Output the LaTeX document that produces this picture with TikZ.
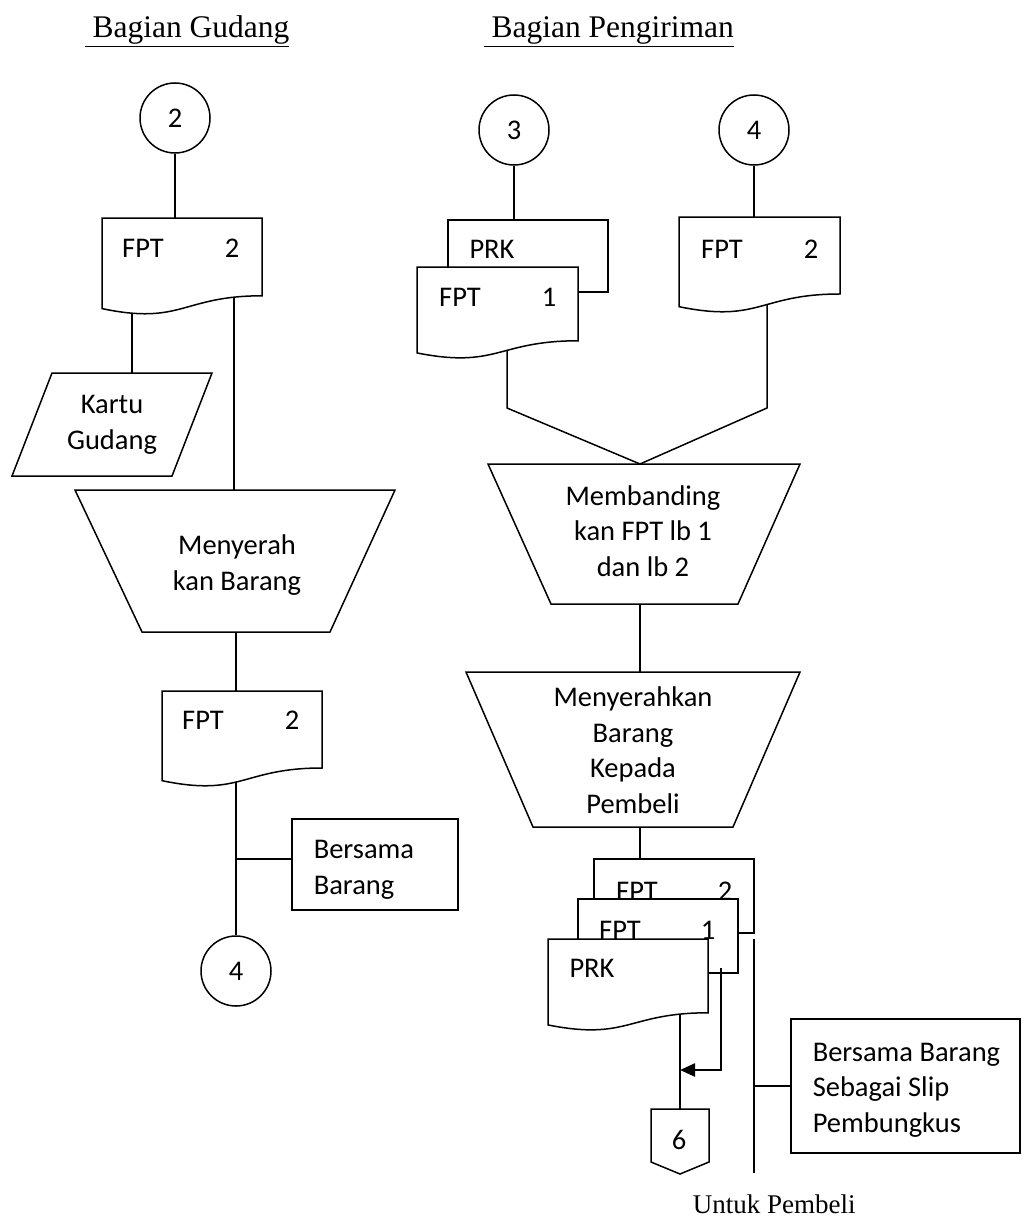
\documentclass[tikz,border=0pt]{standalone}
\usepackage{fontspec}
\setmainfont{Carlito}
\newfontfamily\serifhdr{Liberation Serif}
\usetikzlibrary{calc,arrows.meta}
\pgfdeclarelayer{wires}
\pgfsetlayers{wires,main}
\newcommand\flowfont{\fontsize{28.5}{35.5}\selectfont}
% document symbol: rectangle with a wavy lower edge
\newcommand\docshape[5]{%
  \node[frame,minimum width=#4pt,minimum height=#5pt,anchor=north west] (#1) at (#2,#3) {};
  \draw[shp] (#1.north west) -- (#1.north east)
    -- ($(#1.north east)!0.802!(#1.south east)$)
    .. controls ($(#1.north)!0.802!(#1.south)$) and ($(#1.north)!1.1075!(#1.south)$)
    .. ($(#1.north west)!0.934!(#1.south west)$) -- cycle;}
\begin{document}
\begin{tikzpicture}[x=1pt,y=-1pt,line width=1.5pt,
  frame/.style={rectangle,draw=none,inner sep=0pt,outer sep=0pt},
  shp/.style={draw=black,fill=white,line width=1.5pt},
  wire/.style={draw=black,line width=1.5pt},
  conn/.style={circle,draw,fill=white,minimum size=70pt,inner sep=0pt,font=\flowfont},
  lbl/.style={font=\flowfont,inner sep=0pt},
  ml/.style={font=\flowfont,align=center,inner sep=0pt},
  mll/.style={font=\flowfont,align=left,inner sep=0pt,anchor=west},
  boxn/.style={rectangle,draw,fill=white,inner sep=0pt,outer sep=0pt},
  hdr/.style={font=\serifhdr\fontsize{31.5}{38}\selectfont,inner sep=0pt,anchor=base west}]
\useasboundingbox (0,0) rectangle (1024,1220);

% ---------------- Bagian Gudang ----------------
\node[hdr] (h1) at (84,38) {\underline{\ Bagian Gudang}};
\node[conn] (c2) at (175,118) {2};
\docshape{d1}{102}{218}{160}{97}
\node[lbl,anchor=base] (d1a) at (143,257) {FPT};
\node[lbl,anchor=base] (d1b) at (232,257) {2};

% manual input: Kartu Gudang
\draw[shp] (52,373) -- (212,373) -- (172,476) -- (12,476) -- cycle;
\coordinate (kgtop) at (132,373);
\node[ml] (kg) at (112,425) {Kartu\\Gudang};

% manual operation
\draw[shp] (75,490) -- (395,490) -- (330,632) -- (142,632) -- cycle;
\coordinate (op1top) at (234,490);
\coordinate (op1bot) at (236,632);
\node[ml] (op1) at (237,565) {Menyerah\\kan Barang};

\docshape{d2}{162}{691}{160}{96}
\node[lbl,anchor=base] (d2a) at (203,729) {FPT};
\node[lbl,anchor=base] (d2b) at (292,729) {2};

\node[boxn,minimum width=166pt,minimum height=91pt,anchor=north west] (bb1) at (292,819) {};
\node[mll] (bb1t) at (313,870) {Bersama\\Barang};
\node[conn] (c4L) at (236,971) {4};
\coordinate (jb) at (236,859);

% ---------------- Bagian Pengiriman ----------------
\node[hdr] (h2) at (483,38) {\underline{\ Bagian Pengiriman}};
\node[conn] (c3) at (514,130) {3};
\node[conn] (c4R) at (754,130) {4};

% PRK behind FPT 1
\node[boxn,minimum width=160pt,minimum height=72pt,anchor=north west] (p0) at (448,220) {};
\node[lbl,anchor=base] (p0t) at (492,258) {PRK};
\docshape{f1}{417}{267}{161}{92}
\node[lbl,anchor=base] (f1a) at (460,306) {FPT};
\node[lbl,anchor=base] (f1b) at (549,306) {1};

\docshape{dR}{679}{217}{161}{96}
\node[lbl,anchor=base] (dRa) at (722,258) {FPT};
\node[lbl,anchor=base] (dRb) at (811,258) {2};

\coordinate (jL) at (507,408);
\coordinate (jR) at (767,408);

% comparing FPT copies
\draw[shp] (488,464) -- (800,464) -- (738,604) -- (551,604) -- cycle;
\coordinate (op2top) at (640,464);
\coordinate (op2bot) at (640,604);
\node[ml] (op2) at (643,531) {Membanding\\kan FPT lb 1\\dan lb 2};

% handing over the goods
\draw[shp] (466,672) -- (800,672) -- (733,827) -- (533,827) -- cycle;
\coordinate (op3top) at (640,672);
\coordinate (op3bot) at (640,827);
\node[ml] (op3) at (633,750) {Menyerahkan\\Barang\\Kepada\\Pembeli};

% stack: FPT 2, FPT 1, PRK
\node[boxn,minimum width=160pt,minimum height=74pt,anchor=north west] (pb) at (594,859) {};
\node[lbl,anchor=base] (pba) at (637,900) {FPT};
\node[lbl,anchor=base] (pbb) at (725,900) {2};
\node[boxn,minimum width=160pt,minimum height=74pt,anchor=north west] (pm) at (578,899) {};
\node[lbl,anchor=base] (pma) at (620,939) {FPT};
\node[lbl,anchor=base] (pmb) at (708,939) {1};
\docshape{pf}{548}{939}{160}{92}
\node[lbl,anchor=base] (pft) at (592,977) {PRK};

% off-page connector 6
\node[frame,minimum width=58pt,minimum height=65pt,anchor=north west] (o6) at (651,1109) {};
\draw[shp] (o6.north west) -- (o6.north east) -- ($(o6.south east)+(0,-12)$)
  -- (o6.south) -- ($(o6.south west)+(0,-12)$) -- cycle;
\node[lbl] (o6t) at (679,1140) {6};

\coordinate (as) at (721,968);
\coordinate (ae) at (680,1070);
\draw[line width=2.4pt,-{Triangle[length=15pt,width=13pt]}] (as) |- (ae);

\node[boxn,minimum width=229pt,minimum height=134pt,anchor=north west] (bx2) at (791,1019) {};
\node[mll] (bx2t) at (812,1090) {Bersama Barang\\Sebagai Slip\\Pembungkus};
\coordinate (vt) at (754,939);
\coordinate (vb) at (754,1173);
\draw[wire] (vt) -- (vb);
\draw[wire] (vt |- bx2.west) -- (bx2.west);

\node[font=\serifhdr\fontsize{27}{32}\selectfont,inner sep=0pt,anchor=base west] (up) at (692,1213) {Untuk Pembeli};

% ---------------- connectors ----------------
\begin{pgfonlayer}{wires}
\draw[wire] (c2) -- (c2 |- d1.north);
\draw[wire] (d1.center -| kgtop) -- (kgtop);
\draw[wire] (d1.center -| op1top) -- (op1top);
\draw[wire] (op1bot) -- (op1bot |- d2.north);
\draw[wire] (d2.center -| c4L.north) -- (c4L.north);
\draw[wire] (jb) -- (jb -| bb1.west);
\draw[wire] (c3) -- (c3 |- p0.north);
\draw[wire] (c4R) -- (c4R |- dR.north);
\draw[wire] (f1.center -| jL) -- (jL) -- (op2top);
\draw[wire] (dR.center -| jR) -- (jR) -- (op2top);
\draw[wire] (op2bot) -- (op3top);
\draw[wire] (op3bot) -- (op3bot |- pb.north);
\draw[wire] (pf.center -| o6.north) -- (o6.north);
\end{pgfonlayer}
\end{tikzpicture}
\end{document}
